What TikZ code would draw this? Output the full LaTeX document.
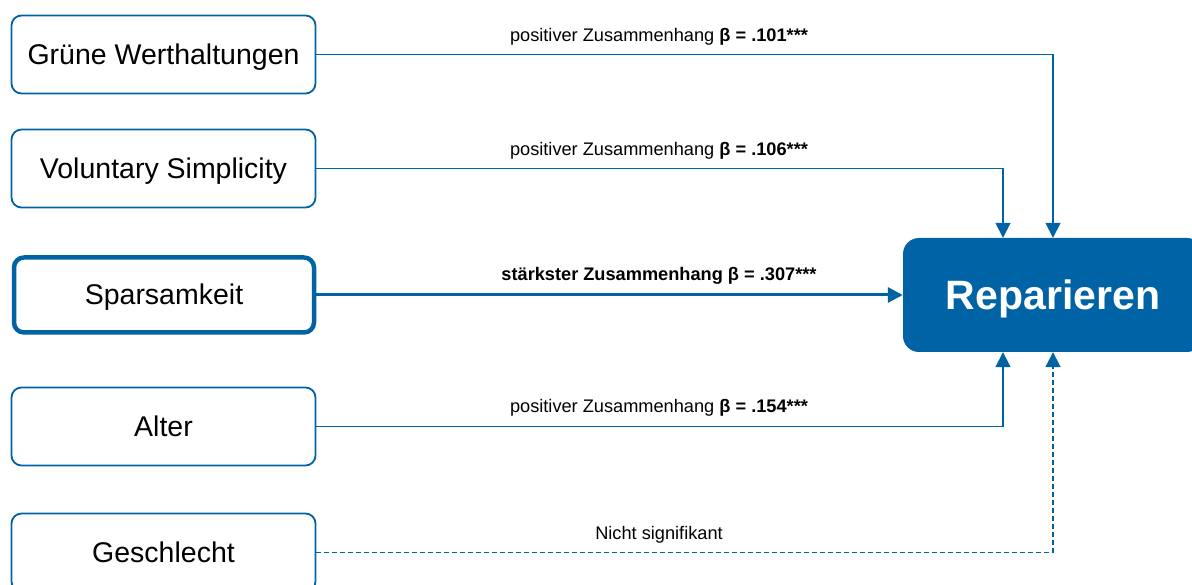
\documentclass[tikz,border=0pt]{standalone}
\usepackage{fontspec}
\setmainfont{Liberation Sans}
\usetikzlibrary{arrows.meta}
\definecolor{blu}{RGB}{0,99,166}
\begin{document}
\begin{tikzpicture}[x=1pt,y=-1pt,
  src/.style={draw=blu, line width=1.8pt, rounded corners=10pt, minimum width=304pt, minimum height=78pt, inner sep=0pt, text height=20pt, text depth=0pt, font=\fontsize{28.5}{30}\selectfont},
  lbl/.style={font=\fontsize{18.2}{20}\selectfont, inner sep=0pt},
  conn/.style={draw=blu, line width=1.7pt, -{Triangle[length=15pt,width=15pt]}}]
\useasboundingbox (0,0) rectangle (1192,585);
\node[src] (g) at (163.5,54.5) {Grüne Werthaltungen};
\node[src] (v) at (163.5,168.5) {Voluntary Simplicity};
\node[src, line width=4.5pt, minimum width=300pt, minimum height=75pt] (s) at (164,295) {Sparsamkeit};
\node[src] (a) at (163.5,426.5) {Alter};
\node[src] (ge) at (163.5,552.5) {Geschlecht};
\node[fill=blu, rounded corners=16pt, minimum width=300pt, minimum height=114pt, inner sep=0pt, text height=29pt, text depth=0pt, text=white, font=\bfseries\fontsize{41}{44}\selectfont] (r) at (1053,295) {Reparieren};
\draw[conn] (g.east) -| (r.north);
\draw[conn] (v.east) -| ([xshift=-50pt]r.north);
\draw[conn, line width=3pt] (s.east) -- (r.west);
\draw[conn] (a.east) -| ([xshift=-50pt]r.south);
\draw[conn, dash pattern=on 5pt off 3pt] (ge.east) -| (r.south);
\node[lbl] (l1) at (659,37) {positiver Zusammenhang \textbf{β = .101***}};
\node[lbl] (l2) at (659,151) {positiver Zusammenhang \textbf{β = .106***}};
\node[lbl] (l3) at (659,276) {\textbf{stärkster Zusammenhang β = .307***}};
\node[lbl] (l4) at (659,408) {positiver Zusammenhang \textbf{β = .154***}};
\node[lbl] (l5) at (659,535) {Nicht signifikant};
\end{tikzpicture}
\end{document}
